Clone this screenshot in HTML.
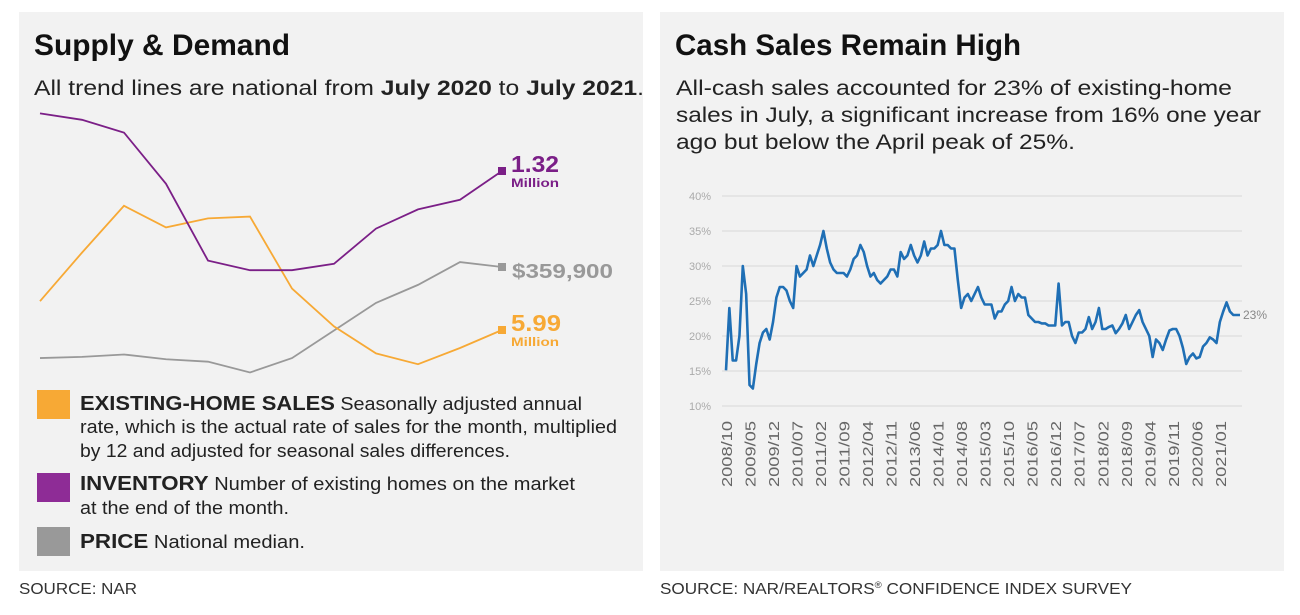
<!DOCTYPE html>
<html><head><meta charset="utf-8">
<style>
html,body{margin:0;padding:0;background:#fff;}
svg{display:block;font-family:"Liberation Sans",sans-serif;}
</style></head>
<body>
<svg id="root" width="1300" height="615" viewBox="0 0 1300 615">
  <rect x="19" y="12" width="624" height="559" fill="#f2f2f2"/>
  <rect x="660" y="12" width="624" height="559" fill="#f2f2f2"/>

  <text x="34" y="55" font-size="30" font-weight="bold" fill="#111" textLength="256" lengthAdjust="spacingAndGlyphs">Supply &amp; Demand</text>
  <text x="34" y="95" font-size="21" fill="#222" textLength="610" lengthAdjust="spacingAndGlyphs">All trend lines are national from <tspan font-weight="bold">July 2020</tspan> to <tspan font-weight="bold">July 2021</tspan>.</text>

  <g id="left-chart"></g>

  <rect x="37" y="390" width="33" height="29" fill="#f7a935"/>
  <text x="80" y="410" font-size="18" fill="#222" textLength="502" lengthAdjust="spacingAndGlyphs"><tspan font-weight="bold" font-size="20">EXISTING-HOME SALES</tspan>  Seasonally adjusted annual</text>
  <text x="80" y="433" font-size="18" fill="#222" textLength="537" lengthAdjust="spacingAndGlyphs">rate, which is the actual rate of sales for the month, multiplied</text>
  <text x="80" y="457" font-size="18" fill="#222" textLength="430" lengthAdjust="spacingAndGlyphs">by 12 and adjusted for seasonal sales differences.</text>
  <rect x="37" y="473" width="33" height="29" fill="#8e2c96"/>
  <text x="80" y="490" font-size="18" fill="#222" textLength="495" lengthAdjust="spacingAndGlyphs"><tspan font-weight="bold" font-size="20">INVENTORY</tspan>  Number of existing homes on the market</text>
  <text x="80" y="514" font-size="18" fill="#222" textLength="209" lengthAdjust="spacingAndGlyphs">at the end of the month.</text>
  <rect x="37" y="527" width="33" height="29" fill="#999"/>
  <text x="80" y="548" font-size="18" fill="#222" textLength="225" lengthAdjust="spacingAndGlyphs"><tspan font-weight="bold" font-size="20">PRICE</tspan>  National median.</text>

  <text x="19" y="594" font-size="16" fill="#333" textLength="118" lengthAdjust="spacingAndGlyphs">SOURCE: NAR</text>

  <text x="675" y="55" font-size="30" font-weight="bold" fill="#111" textLength="346" lengthAdjust="spacingAndGlyphs">Cash Sales Remain High</text>
  <text x="676" y="95" font-size="21" fill="#222" textLength="556" lengthAdjust="spacingAndGlyphs">All-cash sales accounted for 23% of existing-home</text>
  <text x="676" y="122" font-size="21" fill="#222" textLength="585" lengthAdjust="spacingAndGlyphs">sales in July, a significant increase from 16% one year</text>
  <text x="676" y="149" font-size="21" fill="#222" textLength="399" lengthAdjust="spacingAndGlyphs">ago but below the April peak of 25%.</text>

  <g id="right-chart"></g>

  <text x="660" y="594" font-size="16" fill="#333" textLength="472" lengthAdjust="spacingAndGlyphs">SOURCE: NAR/REALTORS<tspan font-size="9" dy="-6">®</tspan><tspan dy="6"> CONFIDENCE INDEX SURVEY</tspan></text>
</svg>
<script>
// ---- Left chart data (Jul 2020 - Jul 2021) ----
const inventoryM = [1.50,1.48,1.44,1.28,1.04,1.01,1.01,1.03,1.14,1.20,1.23,1.32];
const salesM = [6.15,6.42,6.68,6.56,6.61,6.62,6.22,6.01,5.86,5.80,5.89,5.99];
const priceK = [284,285,287,283,281,272,284,307,330,345,364,359.9];
// ---- Right chart data (monthly Oct 2008 - Jul 2021) ----
const cashPct = [15.1,24,16.5,16.5,20,30,26,13,12.5,16,19,20.5,21,19.5,22,25.5,27,27,26.5,25,24,30,28.5,29,29.5,31.5,30,31.5,33,35,32.5,30.5,29.5,29,29,29,28.5,29.5,31,31.5,33,32,30,28.5,29,28,27.5,28,28.5,29.5,29.5,28.5,32,31,31.5,33,31.5,30.5,31.5,33.5,31.5,32.5,32.5,33,35,33,33,32.5,32.5,28,24,25.5,26,25,26,27,25.5,24.5,24.5,24.5,22.5,23.5,23.5,24.5,25,27,25,26,25.5,25.5,23,22.5,22,22,21.8,21.8,21.5,21.5,21.5,27.5,21.5,22,22,20,19,20.5,20.5,21,22.7,21,22,24,21,21,21.3,21.5,20.4,21,21.8,23,21,22,23,23.7,22,21,20,17,19.5,19,18,19.5,20.8,21,21,20,18.3,16,17,17.5,16.8,17,18.5,19,19.8,19.5,19,22,23.5,24.8,23.5,23,23,23];
const yTicks = [10,15,20,25,30,35,40];
const xTickLabels = ["2008/10","2009/05","2009/12","2010/07","2011/02","2011/09","2012/04","2012/11","2013/06","2014/01","2014/08","2015/03","2015/10","2016/05","2016/12","2017/07","2018/02","2018/09","2019/04","2019/11","2020/06","2021/01"];

const NS="http://www.w3.org/2000/svg";
function mk(tag, attrs, parent){const e=document.createElementNS(NS,tag);for(const k in attrs)e.setAttribute(k,attrs[k]);parent.appendChild(e);return e;}

// left chart
const L=document.getElementById('left-chart');
const lx=i=>40+i*42.0;
const yInv=v=>171+(1.32-v)*320;
const ySal=v=>330+(5.99-v)*180;
const yPri=v=>267+(359.9-v)*1.2;
function series(vals,yf,color,name){
  const p=mk('polyline',{points:vals.map((v,i)=>lx(i)+','+yf(v)).join(' '),fill:'none',stroke:color,'stroke-width':1.8},L);
  
  
  const n=vals.length-1;
  const m=mk('rect',{x:lx(n)-4,y:yf(vals[n])-4,width:8,height:8,fill:color},L);
  
  
}
series(priceK,yPri,'#999','price-line');
series(salesM,ySal,'#f7a935','sales-line');
series(inventoryM,yInv,'#7b1f87','inventory-line');
const labs=[[511,172,'1.32',23,'#7b1f87','inventory-end-value',48],[511,187,'Million',12,'#7b1f87','inventory-unit',48],
 [512,278,'$359,900',20,'#999','price-end-value',101],[511,331,'5.99',23,'#f7a935','sales-end-value',50],[511,346,'Million',12,'#f7a935','sales-unit',48]];
labs.forEach(a=>{const t=mk('text',{x:a[0],y:a[1],'font-size':a[3],'font-weight':'bold',fill:a[4],textLength:a[6],lengthAdjust:'spacingAndGlyphs'},L);t.textContent=a[2];
  
  });

// right chart
const R=document.getElementById('right-chart');
const rx=i=>726+i*(514/153);
const ry=v=>406-(v-10)*7;
yTicks.forEach(v=>{
  const g=mk('line',{x1:722,x2:1242,y1:ry(v),y2:ry(v),stroke:'#ddd','stroke-width':1.2},R);
  
  
  const t=mk('text',{x:711,y:ry(v)+4,'font-size':11,fill:'#aaa','text-anchor':'end'},R);
  t.textContent=v+'%';
  
  
});
xTickLabels.forEach((s,k)=>{
  const x=rx(k*7)+6;
  const t=mk('text',{x:x,y:421,'font-size':15,fill:'#666','text-anchor':'end',textLength:66,lengthAdjust:'spacingAndGlyphs',transform:'rotate(-90 '+x+' 421)'},R);
  t.textContent=s;
  
  
});
const cl=mk('polyline',{points:cashPct.map((v,i)=>rx(i)+','+ry(v)).join(' '),fill:'none',stroke:'#1f6fb5','stroke-width':2.6,'stroke-linejoin':'round'},R);


const el=mk('text',{x:rx(cashPct.length-1)+3,y:ry(cashPct[cashPct.length-1])+4,'font-size':12,fill:'#888'},R);
el.textContent=Math.round(cashPct[cashPct.length-1])+'%';


</script>
</body></html>
